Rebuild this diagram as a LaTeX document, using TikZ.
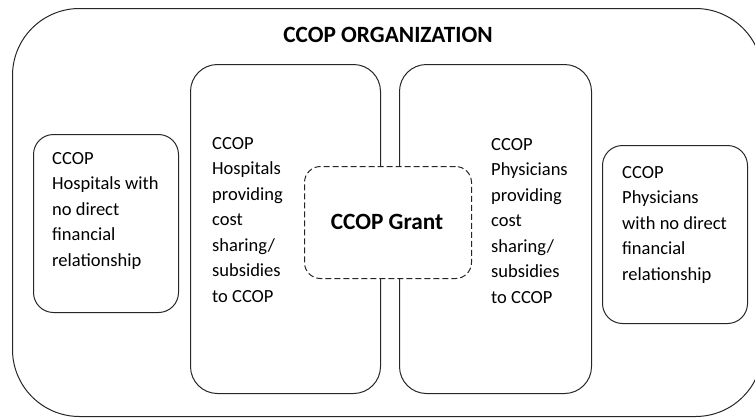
\documentclass[tikz,border=0pt]{standalone}
\usepackage{fontspec}
\setmainfont{Carlito}
\begin{document}
\begin{tikzpicture}[x=1pt,y=-1pt,
  frame/.style={draw=black!85,line width=1pt},
  box/.style={frame,inner sep=0pt,anchor=north west},
  txt/.style={inner sep=0pt,anchor=north west,align=left,
    font=\fontsize{18.5}{25.5}\selectfont},
  heading/.style={font=\fontsize{23.3}{26}\selectfont\bfseries,anchor=base},
  grantbox/.style={box,fill=white,dash pattern=on 6pt off 3pt,rounded corners=16pt}]
\useasboundingbox (0,0) rectangle (755,418);
% outer organization frame (runs past the right edge)
\node[box,rounded corners=67pt,minimum width=750pt,minimum height=408pt] (org) at (12,8) {};
\node[heading] (title) at (388,42) {CCOP ORGANIZATION};
% inner boxes
\node[box,rounded corners=20pt,minimum width=145pt,minimum height=178pt] (hosp) at (33,134) {};
\node[box,rounded corners=27pt,minimum width=190pt,minimum height=329pt] (hospcs) at (190,64) {};
\node[box,rounded corners=27pt,minimum width=192pt,minimum height=329pt] (physcs) at (399,64) {};
\node[box,rounded corners=20pt,minimum width=145pt,minimum height=178pt] (phys) at (602,145) {};
% box texts (first baseline 16pt below the anchor)
\node[txt] (thosp) at (52,148) {\rule{0pt}{16pt}CCOP\\Hospitals with\\no direct\\financial\\relationship};
\node[txt] (thospcs) at (212,133) {\rule{0pt}{16pt}CCOP\\Hospitals\\providing\\cost\\sharing/\\subsidies\\to CCOP};
\node[txt] (tphyscs) at (491,134) {\rule{0pt}{16pt}CCOP\\Physicians\\providing\\cost\\sharing/\\subsidies\\to CCOP};
\node[txt] (tphys) at (622,162) {\rule{0pt}{16pt}CCOP\\Physicians\\with no direct\\financial\\relationship};
% grant in the middle, over both cost-sharing boxes
\node[grantbox,minimum width=167pt,minimum height=112pt] (grant) at (304,166) {};
\node[heading] (tgrant) at (387,229) {CCOP Grant};
\end{tikzpicture}
\end{document}
